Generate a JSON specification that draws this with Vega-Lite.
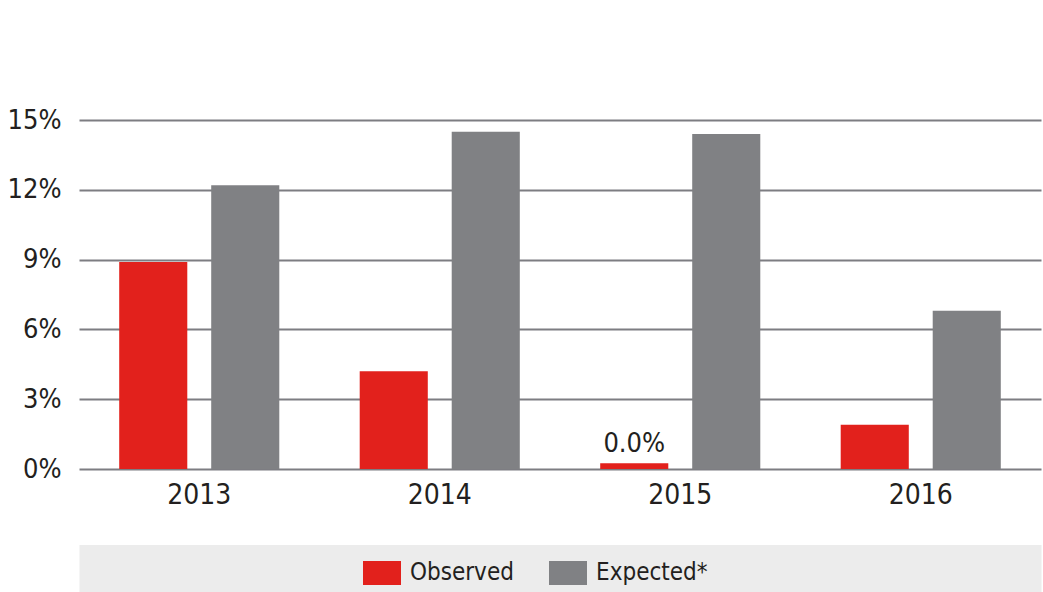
{
  "$schema": "https://vega.github.io/schema/vega-lite/v6.json",
  "width": 962,
  "height": 349,
  "autosize": {"type": "none"},
  "padding": {"left": 79, "top": 120, "right": 2, "bottom": 123},
  "background": "white",
  "data": {
    "values": [
      {"year": "2013", "series": "Observed", "value": 8.9},
      {"year": "2013", "series": "Expected*", "value": 12.2},
      {"year": "2014", "series": "Observed", "value": 4.2},
      {"year": "2014", "series": "Expected*", "value": 14.5},
      {"year": "2015", "series": "Observed", "value": 0.25, "label": "0.0%"},
      {"year": "2015", "series": "Expected*", "value": 14.4},
      {"year": "2016", "series": "Observed", "value": 1.9},
      {"year": "2016", "series": "Expected*", "value": 6.8}
    ]
  },
  "encoding": {
    "x": {
      "field": "year",
      "type": "nominal",
      "scale": {"paddingInner": 0, "paddingOuter": 0},
      "axis": {
        "title": null,
        "labelAngle": 0,
        "ticks": false,
        "domain": true,
        "domainColor": "#ececec",
        "domainWidth": 47,
        "offset": 99,
        "labelPadding": -87,
        "labelFont": "DejaVu Sans Condensed, Liberation Sans, sans-serif",
        "labelFontSize": 28,
        "labelColor": "#231f20",
        "grid": false
      }
    },
    "xOffset": {
      "field": "series",
      "type": "nominal",
      "sort": ["Observed", "Expected*"],
      "scale": {"paddingInner": 0.26, "paddingOuter": 0.437}
    },
    "y": {
      "field": "value",
      "type": "quantitative",
      "scale": {"domain": [0, 15], "nice": false},
      "axis": {
        "title": null,
        "values": [0, 3, 6, 9, 12, 15],
        "labelExpr": "datum.value + '%'",
        "grid": true,
        "gridColor": "#7d7d82",
        "gridWidth": 2,
        "domain": false,
        "ticks": false,
        "labelPadding": 18,
        "labelFont": "DejaVu Sans Condensed, Liberation Sans, sans-serif",
        "labelFontSize": 27,
        "labelColor": "#231f20"
      }
    }
  },
  "layer": [
    {
      "mark": {"type": "bar"},
      "encoding": {
        "color": {
          "field": "series",
          "type": "nominal",
          "sort": ["Observed", "Expected*"],
          "scale": {"domain": ["Observed", "Expected*"], "range": ["#e2211c", "#808184"]},
          "legend": {
            "title": null,
            "orient": "none",
            "direction": "horizontal",
            "legendX": 284,
            "legendY": 434,
            "padding": 0,
            "symbolType": "M-1,-0.63H1V0.63H-1Z",
            "symbolSize": 1444,
            "symbolStrokeWidth": 0,
            "labelOffset": 9,
            "columnPadding": 35,
            "labelFont": "DejaVu Sans Condensed, Liberation Sans, sans-serif",
            "labelFontSize": 24,
            "labelColor": "#231f20"
          }
        }
      }
    },
    {
      "transform": [{"filter": "datum.label != null"}],
      "mark": {
        "type": "text",
        "baseline": "alphabetic",
        "dy": -11,
        "font": "DejaVu Sans Condensed, Liberation Sans, sans-serif",
        "fontSize": 27,
        "color": "#231f20"
      },
      "encoding": {
        "text": {"field": "label"}
      }
    }
  ],
  "config": {
    "view": {"stroke": null}
  }
}
